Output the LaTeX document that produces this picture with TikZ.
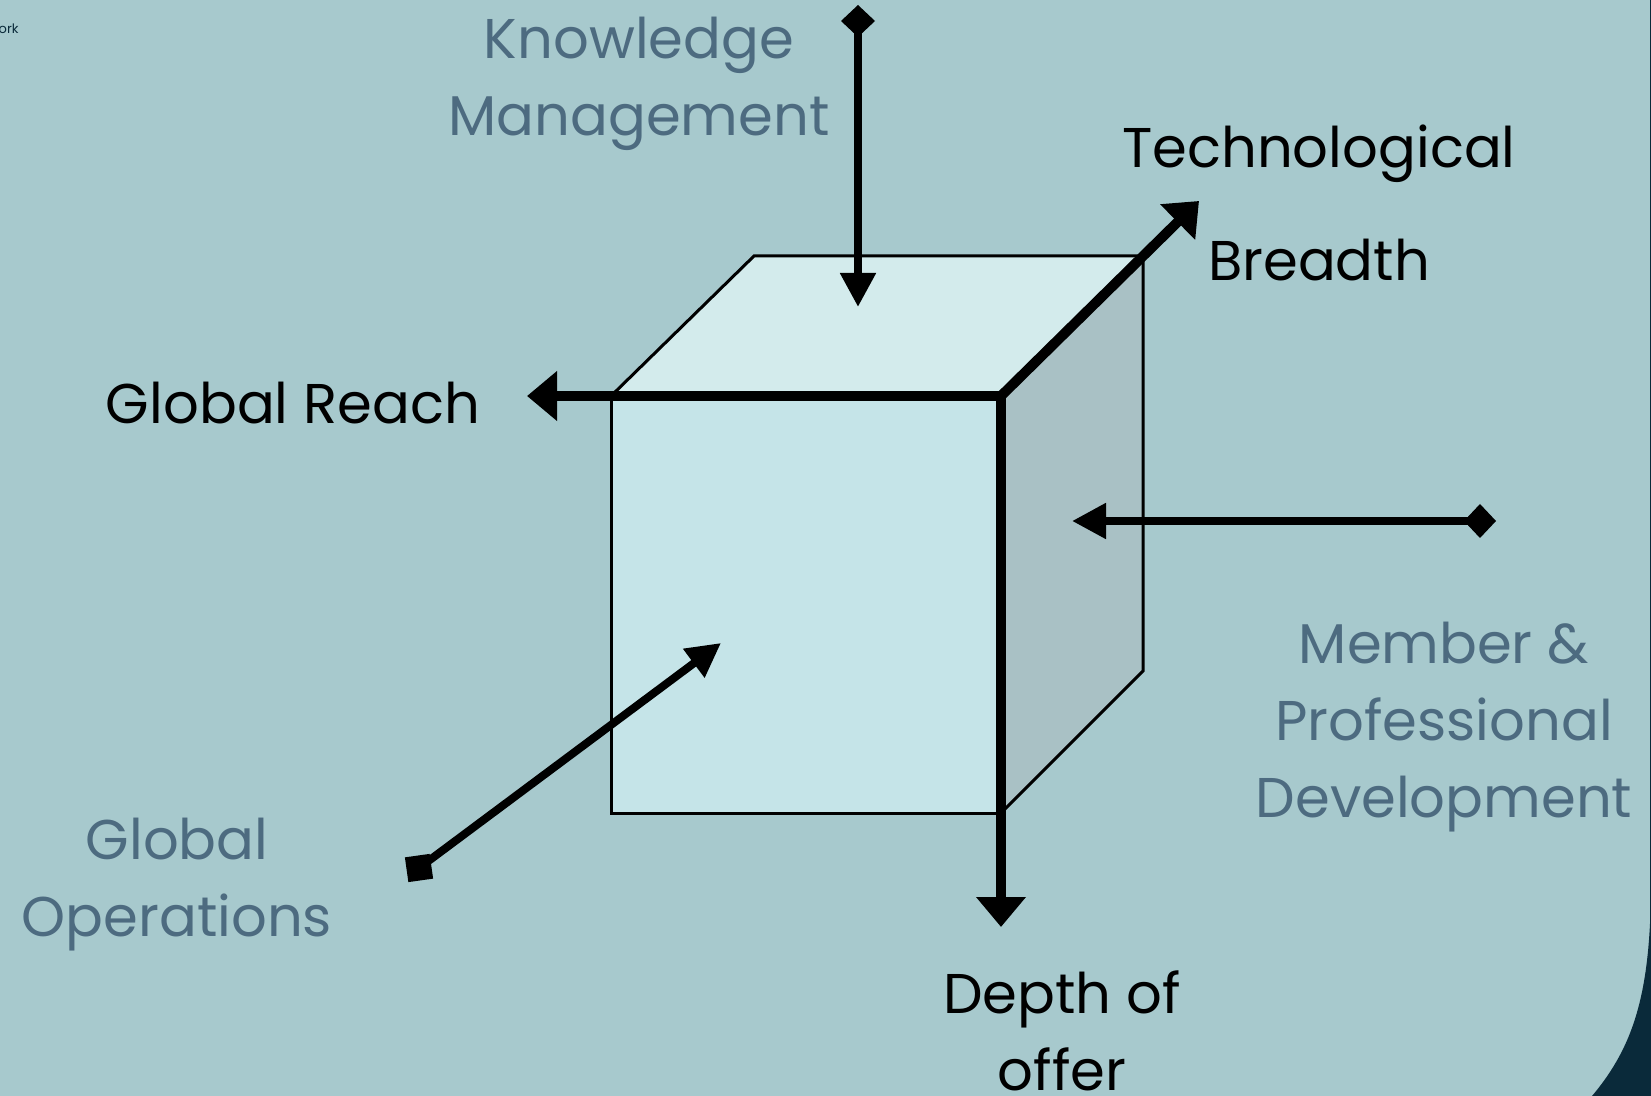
\documentclass[tikz,border=0pt]{standalone}
\usepackage{fontspec}
\setmainfont{Poppins}
\usetikzlibrary{arrows.meta}
\definecolor{bgc}{HTML}{A7C9CD}
\definecolor{frontc}{HTML}{C5E4E8}
\definecolor{topc}{HTML}{D3EBEC}
\definecolor{sidec}{HTML}{A9C1C5}
\definecolor{greyblue}{HTML}{4D6B80}
\definecolor{darkc}{HTML}{0A2A3A}
\tikzset{
  facefill/.style={draw=black, line width=1.5pt, line join=miter},
  thickaxis/.style={line width=5pt, -{Triangle[length=15pt,width=24pt]}},
  thinaxis/.style={line width=4pt, {Diamond[length=16pt,width=17pt]}-{Triangle[length=17pt,width=17pt]}},
  lbl/.style={font=\fontsize{28}{38.5}\selectfont, align=center, inner sep=0pt},
  lblgrey/.style={lbl, text=greyblue},
}
\begin{document}
\begin{tikzpicture}[x=0.5pt,y=-0.5pt]
\useasboundingbox (0,0) rectangle (1651,1096);
\fill[bgc] (0,0) rectangle (1651,1096);
\fill[darkc] (1651,880) .. controls (1651,990) and (1635,1045) .. (1592,1096) -- (1651,1096) -- cycle;
\draw[darkc, line width=1pt] (1650.5,0) -- (1650.5,1096);
\node[anchor=east, text=darkc, font=\fontsize{6.5}{8}\selectfont, inner sep=0pt] (ork) at (19,29) {ork};

% cube corners
\coordinate (FTL) at (611,396);
\coordinate (FTR) at (1001,396);
\coordinate (FBL) at (611,813);
\coordinate (FBR) at (1001,813);
\coordinate (BTL) at (754,256);
\coordinate (BTR) at (1143,256);
\coordinate (BBR) at (1143,671);

\filldraw[facefill, fill=topc] (FTL) -- (BTL) -- (BTR) -- (FTR) -- cycle;
\filldraw[facefill, fill=sidec] (FTR) -- (BTR) -- (BBR) -- (FBR) -- cycle;
\filldraw[facefill, fill=frontc] (FTL) rectangle (FBR);

% axes
\coordinate (reachEnd) at (527,396);
\coordinate (depthEnd) at (1001,927);
\coordinate (techEnd) at (1199,201);
\draw[thickaxis] (FTR) -- (reachEnd);
\draw[thickaxis] (FTR) -- (depthEnd);
\draw[thickaxis] (FTR) -- (techEnd);

\coordinate (kmStart) at (858,5);
\coordinate (kmEnd) at (858,307);
\draw[thinaxis] (kmStart) -- (kmEnd);

\coordinate (mpStart) at (1496,521);
\coordinate (mpEnd) at (1072,521);
\draw[thinaxis] (mpStart) -- (mpEnd);

\node[fill=black, minimum size=12.5pt, inner sep=0pt, rotate=8] (goSq) at (419,868) {};
\coordinate (goEnd) at (721,643);
\draw[line width=4pt, -{Triangle[length=17pt,width=17pt]}] (goSq.center) -- (goEnd);

% labels
\node[lblgrey] (km) at (639,84) {Knowledge\\Management};
\node[lbl] (tb) at (1319,203) {Technological\\[18pt]Breadth};
\node[lbl] (gr) at (293,403) {Global Reach};
\node[lblgrey] (mp) at (1444,727) {Member \&\\Professional\\Development};
\node[lblgrey] (go) at (177,885) {Global\\Operations};
\node[lbl] (dp) at (1062,1031) {Depth of\\offer};
\end{tikzpicture}
\end{document}
